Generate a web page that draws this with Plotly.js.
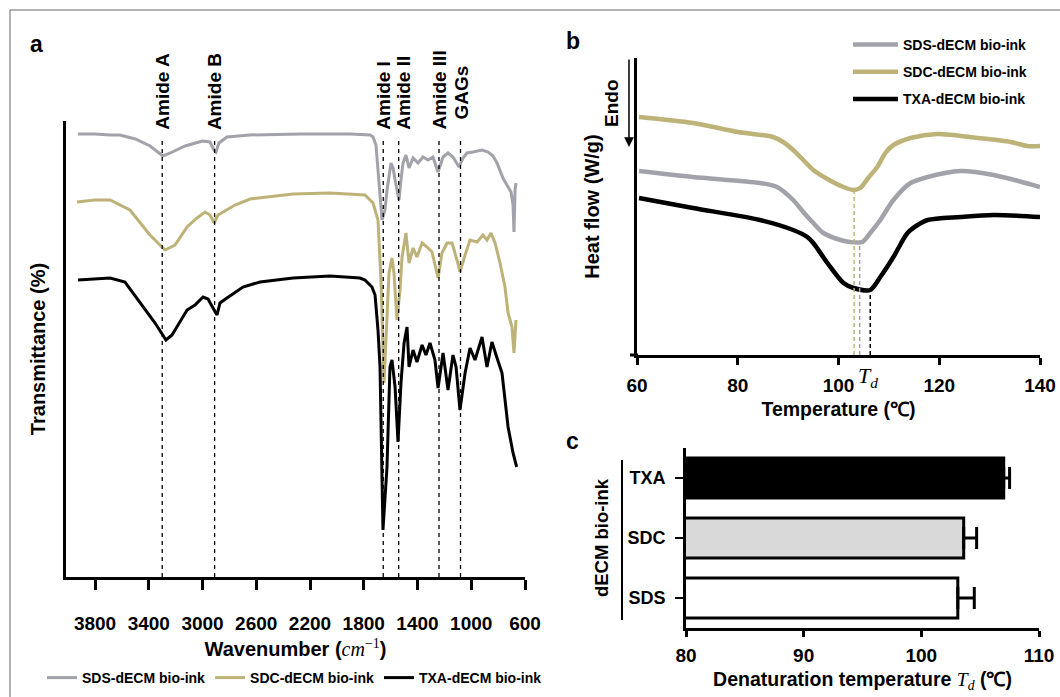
<!DOCTYPE html>
<html>
<head>
<meta charset="utf-8">
<script src="https://cdn.plot.ly/plotly-3.0.1.min.js"></script>
<style>html,body{margin:0;padding:0;background:#fff;}#chart{width:1060px;height:697px;}</style>
</head>
<body>
<div id="chart"></div>
<script>
// ---------- Panel a : FTIR spectra ----------
const wnSDS = [3927,3800,3690,3615,3500,3390,3295,3240,3130,3000,2945,2915,2900,2878,2818,2650,2270,1900,1754,1731,1709,1694,1679,1664,1642,1627,1597,1582,1560,1538,1523,1508,1486,1463,1433,1396,1359,1322,1285,1247,1210,1173,1136,1091,1061,1032,987,920,875,838,808,786,764,726,704,689,682,674,667];
const trSDS = [443,443,442,442,438,431,421,424,431,436,435,427,425,434,440,442,443,443,442,440,432,407,382,357,367,387,414,409,392,377,397,414,422,409,419,414,420,417,420,405,420,424,420,410,419,424,425,427,425,421,414,407,399,390,385,372,345,387,394];
const wnSDC = [3934,3800,3688,3540,3391,3279,3205,3115,3041,2981,2944,2914,2885,2847,2758,2646,2326,2051,1828,1791,1731,1694,1672,1649,1635,1612,1590,1575,1553,1530,1515,1486,1463,1433,1404,1366,1329,1292,1247,1218,1180,1143,1106,1084,1046,1009,957,913,883,853,823,786,749,726,697,682,667];
const trSDC = [375,377,377,367,342,327,332,350,359,365,362,354,362,365,372,378,383,384,382,382,374,357,297,194,237,304,319,304,257,287,320,344,314,329,320,334,330,325,299,324,334,334,317,305,322,337,335,342,337,344,334,314,290,264,250,224,257];
const wnTXA = [3927,3800,3688,3577,3443,3353,3272,3227,3115,3056,2996,2959,2922,2892,2870,2840,2818,2699,2572,2326,2051,1828,1791,1739,1716,1694,1679,1657,1627,1605,1590,1567,1545,1523,1500,1478,1463,1433,1404,1366,1337,1307,1270,1247,1210,1173,1136,1113,1084,1046,1009,972,920,883,846,808,771,726,689,662];
const trTXA = [297,298,299,295,270,254,237,242,267,272,280,278,269,262,274,277,279,290,295,299,301,299,297,290,282,247,210,47,110,210,217,190,135,194,234,250,210,227,215,232,222,234,217,189,224,187,222,210,167,204,229,217,240,210,235,219,204,150,124,110];
const bandNames = ['Amide A','Amide B','Amide I','Amide II','Amide III','GAGs'];
const bandWn = [3300,2910,1655,1540,1240,1080];
const wnTicks = [3800,3400,3000,2600,2200,1800,1400,1000,600];
const wnTickText = ['3800','3400','3000','2600','2200','1800','1400','1000','600'];

// ---------- Panel b : DSC ----------
const tSDS = [60.4,71.1,84.4,87.8,91,93,95,97,100.4,102.3,104.7,106.3,108.3,110.9,114.3,117.7,124.2,130.8,140];
const hSDS = [184,178,172,168,155,143,132,122,115,113,113,122,135,155,172,178,184,180,168];
const tSDC = [60.4,71.1,80,87,89,91,93,95,97.8,101,103,104.3,105.9,107.7,109.3,110.9,114.3,119.6,127.6,134.2,137.5,140];
const hSDC = [238,232,223,218,213,205,195,185,176,168,165,167,177,188,202,210,217,221,217,213,209,209];
const tTXA = [60.4,71.1,84.4,91,93.8,95,97.8,101,103,106.3,108.3,110.9,113.7,115.7,117.7,124.2,130.8,140];
const hTXA = [157,147,135,125,118,112,92,72,67,65,78,98,122,130,135,138,140,138];
const tdPeak = {SDC: 103.1, SDS: 104.2, TXA: 106.3};
const tdPeakH = {SDC: 165, SDS: 113, TXA: 65};
const tempTicks = [60,80,100,120,140];

// ---------- Panel c : denaturation temperature ----------
const groups = ['SDS','SDC','TXA'];
const tdMean = [103.1,103.6,107.0];
const tdErr = [1.4,1.1,0.5];

const names = {SDS:'SDS-dECM bio-ink', SDC:'SDC-dECM bio-ink', TXA:'TXA-dECM bio-ink'};
const col = {SDS:'#a2a2aa', SDC:'#bdb277', TXA:'#000000'};
const barFill = ['#ffffff','#d9d9d9','#000000'];

const W = 1060, H = 697;
const X = p => p / W, Y = p => 1 - p / H;
const FONT = 'Liberation Sans, Arial, sans-serif';
const SERIF = 'Liberation Serif, DejaVu Serif, serif';
const bold = (s) => ({family: FONT, size: s, color: '#000', weight: 700});
const B = (t) => '<b>' + t + '</b>';

const traces = [];
[['SDS', wnSDS, trSDS], ['SDC', wnSDC, trSDC], ['TXA', wnTXA, trTXA]].forEach(([k, x, y]) => {
  traces.push({x, y, xaxis: 'x', yaxis: 'y', type: 'scatter', mode: 'lines', name: names[k],
    line: {color: col[k], width: 3}, legend: 'legend', hoverinfo: 'skip'});
});
bandWn.forEach((w) => {
  traces.push({x: [w, w], y: [0, 436], xaxis: 'x', yaxis: 'y', type: 'scatter', mode: 'lines',
    line: {color: '#000', width: 1.3, dash: '4px,4px'}, showlegend: false, hoverinfo: 'skip'});
});
[['SDS', tSDS, hSDS], ['SDC', tSDC, hSDC], ['TXA', tTXA, hTXA]].forEach(([k, x, y]) => {
  traces.push({x, y, xaxis: 'x2', yaxis: 'y2', type: 'scatter', mode: 'lines', name: names[k],
    line: {color: col[k], width: 4.5, shape: 'spline', smoothing: 0.8}, legend: 'legend2',
    legendgroup: k, hoverinfo: 'skip'});
});
['SDC', 'SDS', 'TXA'].forEach((k) => {
  traces.push({x: [tdPeak[k], tdPeak[k]], y: [0, tdPeakH[k]], xaxis: 'x2', yaxis: 'y2', type: 'scatter',
    mode: 'lines', line: {color: col[k], width: 1.5, dash: '4px,3px'}, showlegend: false, hoverinfo: 'skip'});
});
traces.push({type: 'bar', orientation: 'h', y: groups, x: tdMean, xaxis: 'x3', yaxis: 'y3',
  marker: {color: barFill, line: {color: '#000', width: 3}}, showlegend: false,
  error_x: {type: 'data', symmetric: false, array: tdErr, arrayminus: [0, 0, 0], color: '#000', thickness: 3, width: 11},
  hoverinfo: 'skip'});

const P = (o) => Object.assign({xref: 'paper', yref: 'paper', showarrow: false, xanchor: 'center', yanchor: 'middle'}, o);
const annotations = [
  P({text: B('a'), x: X(36), y: Y(44), font: bold(23)}),
  P({text: B('b'), x: X(573), y: Y(41), font: bold(23)}),
  P({text: B('c'), x: X(572), y: Y(441), font: bold(23)}),
  P({text: B('Endo'), x: X(612), y: Y(103), textangle: -90, font: bold(19)}),
  {text: '', x: X(629), y: Y(147), xref: 'paper', yref: 'paper', showarrow: true, ax: 0, ay: -89,
    arrowhead: 2, arrowsize: 1.3, arrowwidth: 1.5, arrowcolor: '#000'},
  P({text: '<i>T</i><sub><i>d</i></sub>', x: X(856), xanchor: 'left', y: Y(377),
    font: {family: SERIF, size: 22, color: '#000'}})
];
bandNames.forEach((n, i) => {
  const isG = n === 'GAGs';
  annotations.push({text: B(n), x: bandWn[i], xref: 'x', y: isG ? Y(93) : Y(132), yref: 'paper',
    yanchor: isG ? 'middle' : 'bottom', xanchor: 'center', textangle: -90, showarrow: false,
    xshift: n === 'Amide II' ? 4 : 0, font: bold(19)});
});

const shapes = [
  {type: 'rect', xref: 'paper', yref: 'paper', x0: X(10), y0: Y(10), x1: 1.2, y1: -0.2, line: {color: '#666', width: 1}},
  {type: 'line', xref: 'paper', yref: 'paper', x0: X(622), x1: X(622), y0: Y(460), y1: Y(620), line: {color: '#000', width: 2}},
  {type: 'line', xref: 'paper', yref: 'paper', x0: X(630), x1: X(638), y0: Y(355), y1: Y(355), line: {color: '#000', width: 3}}
];

const axBase = {showgrid: false, zeroline: false, showline: true, linecolor: '#000', linewidth: 3, fixedrange: true};
const SER = (t) => '<span style="font-family:\'Liberation Serif\',serif;font-weight:normal"><i>' + t + '</i>';

const layout = {
  width: W, height: H, margin: {l: 0, r: 0, t: 0, b: 0}, paper_bgcolor: '#fff', plot_bgcolor: 'rgba(0,0,0,0)',
  font: {family: FONT, color: '#000'},
  xaxis: Object.assign({}, axBase, {domain: [X(66), X(525)], range: [4016, 600], anchor: 'y',
    tickvals: wnTicks, ticktext: wnTickText.map(B), ticks: 'outside', ticklen: 10, tickwidth: 3, tickcolor: '#000',
    tickfont: bold(19), ticklabelstandoff: 17,
    title: {text: B('Wavenumber (') + SER('cm') + '<sup>−1</sup></span>' + B(')'), font: bold(20), standoff: 10}}),
  yaxis: Object.assign({}, axBase, {domain: [Y(577), Y(121)], range: [0, 456], anchor: 'x',
    showticklabels: false, ticks: '', title: {text: B('Transmittance (%)'), font: bold(20), standoff: 13}}),
  xaxis2: Object.assign({}, axBase, {domain: [X(637), X(1040)], range: [60, 140], anchor: 'y2',
    tickvals: tempTicks, ticktext: tempTicks.map(v => B(String(v))), ticks: 'outside', ticklen: 7, tickwidth: 3, tickcolor: '#000',
    tickfont: bold(19), ticklabelstandoff: 4,
    title: {text: B('Temperature (℃)'), font: bold(19.5), standoff: 8}}),
  yaxis2: Object.assign({}, axBase, {domain: [Y(355), Y(58)], range: [0, 297], anchor: 'x2',
    showticklabels: false, ticks: '', title: {text: B('Heat flow (W/g)'), font: bold(20), standoff: 30}}),
  xaxis3: Object.assign({}, axBase, {domain: [X(686), X(1039)], range: [80, 110], anchor: 'y3',
    tickvals: [80, 90, 100, 110], ticktext: ['80', '90', '100', '110'].map(B), ticks: 'outside', ticklen: 6, tickwidth: 3, tickcolor: '#000',
    tickfont: bold(19), ticklabelstandoff: 2,
    title: {text: B('Denaturation temperature ') + SER('T') + '<sub><i>d</i></sub></span>' + B(' (℃)'), font: bold(19.5), standoff: 8}}),
  yaxis3: Object.assign({}, axBase, {domain: [Y(628), Y(448)], range: [-0.5, 2.5], anchor: 'x3',
    type: 'category', categoryorder: 'array', categoryarray: groups,
    tickvals: groups, ticktext: groups.map(B),
    ticks: 'outside', ticklen: 8, tickwidth: 2.5, tickcolor: '#000', tickfont: bold(18), ticklabelstandoff: 6,
    title: {text: B('dECM bio-ink'), font: bold(18.5), standoff: 14}}),
  bargap: 0.33,
  legend: {orientation: 'h', x: X(42), y: Y(662), xanchor: 'left', yanchor: 'top', font: bold(14),
    bgcolor: 'rgba(0,0,0,0)', itemclick: false, itemdoubleclick: false},
  legend2: {orientation: 'v', x: X(848), y: Y(29), xanchor: 'left', yanchor: 'top', font: bold(14),
    bgcolor: 'rgba(0,0,0,0)', tracegroupgap: 6, itemwidth: 45, itemclick: false, itemdoubleclick: false},
  showlegend: true,
  annotations, shapes
};

Plotly.newPlot('chart', traces, layout, {displayModeBar: false, staticPlot: true});
</script>
</body>
</html>
